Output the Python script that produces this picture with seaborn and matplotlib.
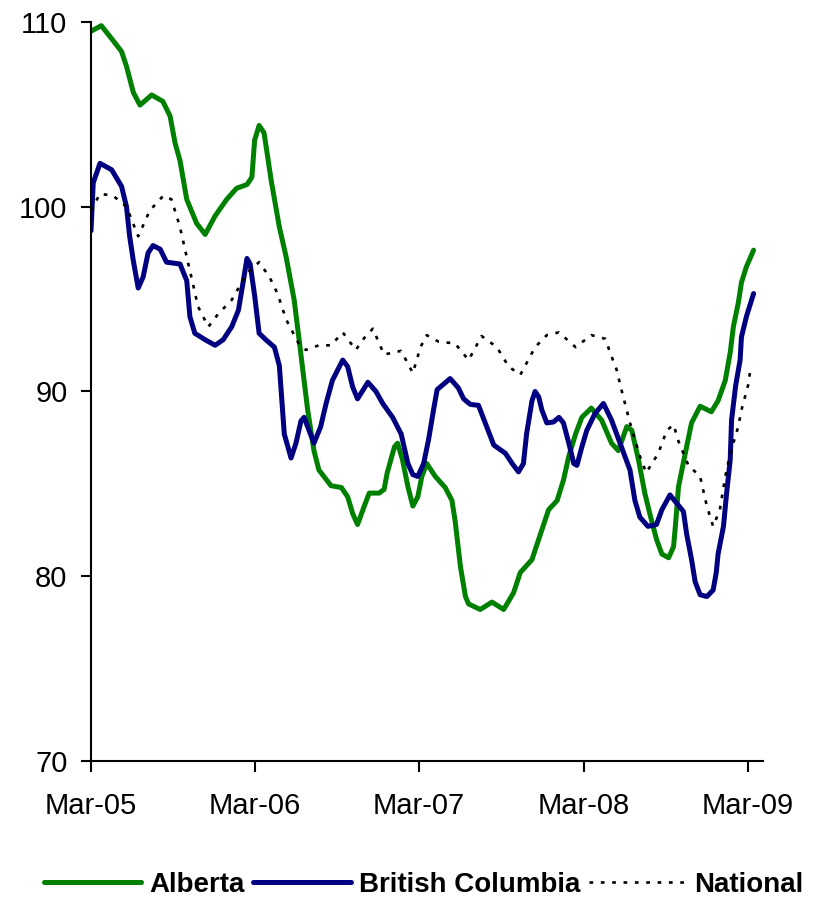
import pandas as pd
import matplotlib.pyplot as plt
import matplotlib.dates as mdates
import seaborn as sns

# Index values (traced points, irregular dates)
alberta_dates = [
    "2005-03-01", "2005-03-24", "2005-04-19", "2005-05-08", "2005-05-19", "2005-06-03",
    "2005-06-18", "2005-07-14", "2005-08-08", "2005-08-24", "2005-09-04", "2005-09-15",
    "2005-09-30", "2005-10-22", "2005-11-10", "2005-12-02", "2005-12-28", "2006-01-19",
    "2006-02-11", "2006-02-22", "2006-02-28", "2006-03-10", "2006-03-21", "2006-04-06",
    "2006-04-24", "2006-05-09", "2006-05-27", "2006-06-08", "2006-06-26", "2006-07-10",
    "2006-07-21", "2006-08-17", "2006-09-09", "2006-09-23", "2006-10-04", "2006-10-15",
    "2006-10-30", "2006-11-10", "2006-12-02", "2006-12-13", "2006-12-20", "2007-01-05",
    "2007-01-12", "2007-01-23", "2007-02-04", "2007-02-15", "2007-02-26", "2007-03-07",
    "2007-03-18", "2007-04-06", "2007-04-28", "2007-05-13", "2007-05-20", "2007-06-01",
    "2007-06-12", "2007-06-19", "2007-07-15", "2007-08-10", "2007-09-05", "2007-09-27",
    "2007-10-12", "2007-11-07", "2007-11-22", "2007-12-14", "2008-01-02", "2008-01-16",
    "2008-01-28", "2008-02-12", "2008-02-26", "2008-03-18", "2008-04-10", "2008-05-02",
    "2008-05-17", "2008-06-05", "2008-06-16", "2008-07-01", "2008-07-15", "2008-07-26",
    "2008-08-10", "2008-08-22", "2008-09-06", "2008-09-17", "2008-09-21", "2008-09-28",
    "2008-10-13", "2008-10-27", "2008-11-15", "2008-12-10", "2008-12-25", "2009-01-10",
    "2009-01-21", "2009-01-28", "2009-02-08", "2009-02-15", "2009-02-26", "2009-03-14",
]
alberta_values = [
    109.5, 109.8, 109.0, 108.4, 107.6, 106.2,
    105.5, 106.05, 105.7, 104.9, 103.45, 102.5,
    100.4, 99.1, 98.5, 99.5, 100.4, 101.0,
    101.2, 101.6, 103.6, 104.4, 104.0, 101.4,
    98.9, 97.3, 94.95, 92.6, 89.0, 86.8,
    85.75, 84.9, 84.8, 84.3, 83.4, 82.8,
    83.8, 84.5, 84.5, 84.7, 85.6, 87.0,
    87.2, 86.3, 84.85, 83.8, 84.3, 85.4,
    86.1, 85.4, 84.8, 84.1, 83.0, 80.5,
    78.9, 78.5, 78.2, 78.6, 78.2, 79.1,
    80.2, 80.9, 82.0, 83.6, 84.1, 85.2,
    86.5, 87.7, 88.6, 89.1, 88.45, 87.2,
    86.8, 88.1, 87.9, 86.3, 84.5, 83.4,
    82.0, 81.2, 81.0, 81.6, 82.7, 84.85,
    86.65, 88.3, 89.2, 88.9, 89.5, 90.6,
    92.1, 93.5, 94.8, 95.9, 96.75, 97.65,
]

bc_dates = [
    "2005-03-01", "2005-03-06", "2005-03-21", "2005-04-16", "2005-05-08", "2005-05-19",
    "2005-05-26", "2005-06-03", "2005-06-14", "2005-06-25", "2005-07-06", "2005-07-17",
    "2005-08-02", "2005-08-16", "2005-09-15", "2005-09-30", "2005-10-07", "2005-10-18",
    "2005-11-10", "2005-12-02", "2005-12-20", "2006-01-08", "2006-01-23", "2006-02-03",
    "2006-02-11", "2006-02-18", "2006-02-28", "2006-03-10", "2006-03-25", "2006-04-13",
    "2006-04-24", "2006-05-05", "2006-05-20", "2006-05-31", "2006-06-11", "2006-06-18",
    "2006-06-29", "2006-07-10", "2006-07-25", "2006-08-06", "2006-08-20", "2006-09-12",
    "2006-09-23", "2006-10-04", "2006-10-15", "2006-11-07", "2006-11-25", "2006-12-10",
    "2007-01-01", "2007-01-20", "2007-02-04", "2007-02-15", "2007-02-26", "2007-03-11",
    "2007-03-22", "2007-04-02", "2007-04-10", "2007-05-09", "2007-05-27", "2007-06-08",
    "2007-06-23", "2007-07-11", "2007-07-26", "2007-08-14", "2007-09-09", "2007-09-24",
    "2007-10-08", "2007-10-19", "2007-10-26", "2007-11-07", "2007-11-14", "2007-11-22",
    "2007-11-29", "2007-12-10", "2007-12-25", "2008-01-06", "2008-01-16", "2008-01-28",
    "2008-02-08", "2008-02-15", "2008-02-26", "2008-03-08", "2008-03-26", "2008-04-14",
    "2008-05-02", "2008-05-24", "2008-06-12", "2008-06-23", "2008-07-04", "2008-07-22",
    "2008-08-10", "2008-08-22", "2008-09-09", "2008-09-24", "2008-10-09", "2008-10-16",
    "2008-10-27", "2008-11-04", "2008-11-15", "2008-11-30", "2008-12-14", "2008-12-21",
    "2008-12-25", "2009-01-06", "2009-01-13", "2009-01-21", "2009-01-24", "2009-02-02",
    "2009-02-12", "2009-02-15", "2009-02-26", "2009-03-14",
]
bc_values = [
    98.7, 101.3, 102.35, 102.0, 101.1, 100.0,
    98.4, 97.1, 95.6, 96.2, 97.5, 97.9,
    97.7, 97.0, 96.9, 96.0, 94.05, 93.15,
    92.8, 92.5, 92.8, 93.5, 94.4, 96.0,
    97.2, 96.9, 95.2, 93.15, 92.8, 92.4,
    91.4, 87.7, 86.4, 87.2, 88.4, 88.6,
    87.9, 87.2, 88.1, 89.35, 90.6, 91.7,
    91.35, 90.25, 89.6, 90.5, 90.0, 89.35,
    88.6, 87.7, 86.1, 85.5, 85.4, 86.1,
    87.4, 89.0, 90.1, 90.7, 90.2, 89.6,
    89.3, 89.25, 88.3, 87.1, 86.65, 86.1,
    85.65, 86.1, 87.7, 89.5, 90.0, 89.7,
    89.0, 88.3, 88.35, 88.6, 88.3, 87.2,
    86.1, 86.0, 87.0, 87.9, 88.8, 89.35,
    88.45, 87.0, 85.75, 84.1, 83.2, 82.7,
    82.8, 83.6, 84.4, 83.95, 83.5, 82.3,
    80.9, 79.7, 79.0, 78.9, 79.25, 80.2,
    81.2, 82.7, 84.5, 86.3, 88.45, 90.3,
    91.7, 92.95, 94.05, 95.3,
]

national_dates = [
    "2005-03-01", "2005-03-21", "2005-04-19", "2005-05-19", "2005-06-14", "2005-07-10",
    "2005-08-09", "2005-08-27", "2005-09-15", "2005-09-26", "2005-10-14", "2005-10-25",
    "2005-11-17", "2005-12-09", "2006-01-08", "2006-02-11", "2006-03-10", "2006-04-02",
    "2006-04-20", "2006-05-09", "2006-06-08", "2006-06-22", "2006-07-21", "2006-08-17",
    "2006-09-12", "2006-10-11", "2006-10-30", "2006-11-18", "2006-12-13", "2007-01-20",
    "2007-02-15", "2007-03-04", "2007-03-18", "2007-04-13", "2007-05-20", "2007-06-19",
    "2007-07-18", "2007-08-21", "2007-09-16", "2007-10-12", "2007-11-14", "2007-12-10",
    "2008-01-06", "2008-02-12", "2008-03-18", "2008-04-18", "2008-05-02", "2008-05-13",
    "2008-05-24", "2008-06-12", "2008-07-04", "2008-07-18", "2008-08-14", "2008-09-02",
    "2008-09-17", "2008-09-28", "2008-10-20", "2008-11-15", "2008-11-30", "2008-12-14",
    "2008-12-29", "2009-01-10", "2009-01-21", "2009-02-08", "2009-02-15", "2009-03-03",
    "2009-03-07",
]
national_values = [
    99.8, 100.7, 100.6, 100.0, 98.4, 99.8,
    100.6, 100.4, 98.9, 97.7, 95.8, 94.6,
    93.5, 94.2, 94.95, 96.4, 97.0, 96.2,
    95.3, 93.9, 92.5, 92.25, 92.5, 92.5,
    93.2, 92.25, 92.9, 93.4, 92.0, 92.2,
    91.0, 92.4, 93.05, 92.7, 92.6, 91.7,
    93.0, 92.4, 91.35, 90.9, 92.4, 93.05,
    93.2, 92.4, 93.05, 92.85, 91.9, 91.2,
    90.1, 88.3, 86.5, 85.6, 86.65, 87.9,
    88.2, 87.3, 86.0, 85.4, 83.8, 82.7,
    83.6, 85.4, 86.65, 88.1, 89.0, 90.45,
    91.25,
]

tick_dates = ["2005-03-01", "2006-03-01", "2007-03-01", "2008-03-01", "2009-03-01"]
tick_labels = ["Mar-05", "Mar-06", "Mar-07", "Mar-08", "Mar-09"]
y_ticks = [70, 80, 90, 100, 110]

sns.set_style("ticks")
plt.rcParams['font.family'] = ['Liberation Sans', 'DejaVu Sans']
plt.rcParams['text.color'] = 'black'

fig = plt.figure(figsize=(8.31, 9.01), dpi=100)
ax = fig.add_axes([0.1095, 0.1554, 0.8087, 0.8202])

series = [
    ("Alberta", alberta_dates, alberta_values, "#008000", 3.6, "-"),
    ("British Columbia", bc_dates, bc_values, "#000080", 3.6, "-"),
    ("National", national_dates, national_values, "black", 1.9, (0, (1.4, 2.9))),
]
for name, dates, vals, color, lw, ls in series:
    df = pd.DataFrame({"Date": pd.to_datetime(dates), "Index": vals})
    sns.lineplot(data=df, x="Date", y="Index", ax=ax, color=color, linewidth=lw,
                 linestyle=ls, label=name, estimator=None,
                 solid_joinstyle="round", solid_capstyle="round")

ax.set_xlim(pd.Timestamp("2005-03-01"), pd.Timestamp("2009-04-04"))
ax.set_ylim(70, 110)
ax.set_xticks(pd.to_datetime(tick_dates))
ax.set_xticklabels(tick_labels)
ax.set_yticks(y_ticks)
ax.set_xlabel("")
ax.set_ylabel("")

ax.spines[['top', 'right']].set_visible(False)
for side in ['left', 'bottom']:
    ax.spines[side].set_linewidth(1.5)
    ax.spines[side].set_color("black")
ax.tick_params(axis='y', length=7, width=1.5, pad=10, labelsize=21, colors="black")
ax.tick_params(axis='x', length=8, width=1.5, pad=14, labelsize=21, colors="black")

handles, labels = ax.get_legend_handles_labels()
ax.get_legend().remove()
leg = fig.legend(handles, labels, loc='center', bbox_to_anchor=(0.51, 0.0178), ncol=3,
                 frameon=False, prop={'weight': 'bold', 'size': 20}, handlelength=3.5,
                 handletextpad=0.3, columnspacing=0.3)
for t in leg.get_texts():
    t.set_color("black")

fig.savefig("out.png", dpi=100)
